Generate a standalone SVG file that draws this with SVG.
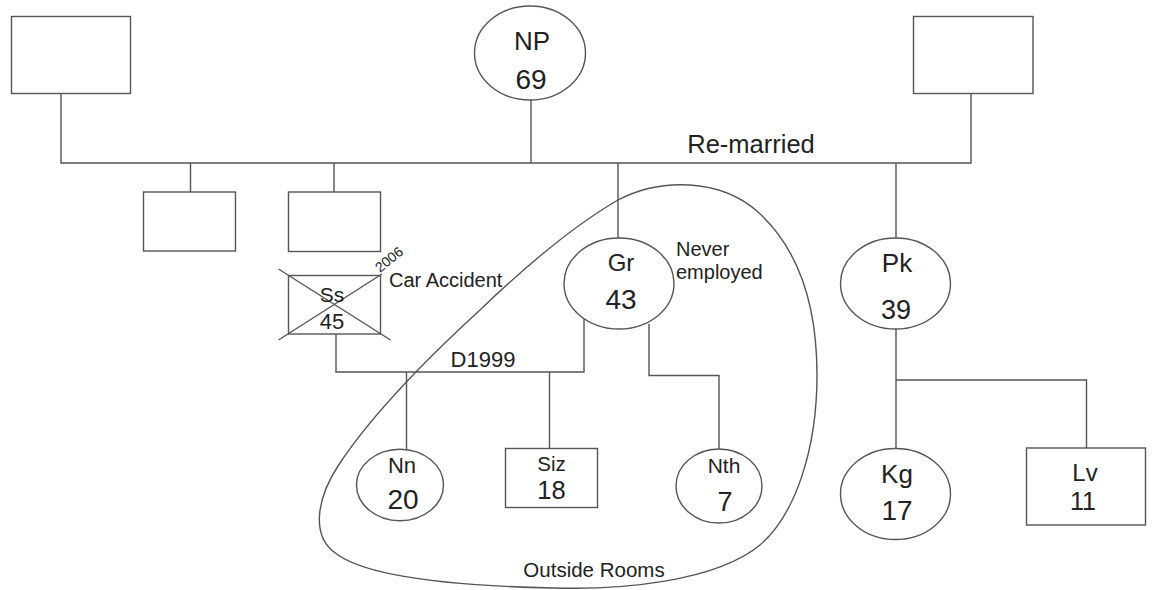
<svg xmlns="http://www.w3.org/2000/svg" width="1154" height="590" viewBox="0 0 1154 590">
<style>
.s{fill:#fff;stroke:#555;stroke-width:1.4}
.c{fill:none;stroke:#555;stroke-width:1.4}
text{font-family:"Liberation Sans",Arial,sans-serif;fill:#222}
.m{text-anchor:middle}
</style>
<rect width="1154" height="590" fill="#fff"/>
<g id="connectors" class="c">
<polyline points="61,93 61,163 971,163 971,93"/>
<line x1="531" y1="100" x2="531" y2="163"/>
<line x1="190.5" y1="163" x2="190.5" y2="192"/>
<line x1="334" y1="163" x2="334" y2="192"/>
<line x1="618" y1="163" x2="618" y2="238"/>
<line x1="896" y1="163" x2="896" y2="238"/>
<polyline points="336,334 336,372 584,372 584,319"/>
<line x1="406.5" y1="372" x2="406.5" y2="450"/>
<line x1="549.5" y1="372" x2="549.5" y2="448.5"/>
<polyline points="649,324 649,375.5 719,375.5 719,449"/>
<line x1="896" y1="329" x2="896" y2="448.5"/>
<polyline points="896,380 1086.5,380 1086.5,448"/>
</g>
<g id="outside-rooms">
<path class="c" d="M 618,200 C 660,178 720,178 758,212 C 802,252 817,312 817,375 C 817,450 795,515 760,545 C 715,582 620,590 553,588 C 460,586 365,578 334,552 C 312,535 316,500 338,466 C 368,420 420,365 480,310 C 530,262 575,225 618,200 Z"/>
<text x="594" y="577" class="m" font-size="20.5">Outside Rooms</text>
</g>
<g id="top-left"><rect class="s" x="11.5" y="16.5" width="119" height="77"/></g>
<g id="top-right"><rect class="s" x="913.5" y="16.5" width="119.5" height="77"/></g>
<g id="np">
<ellipse class="s" cx="530" cy="53" rx="55.5" ry="47"/>
<text x="532" y="50" class="m" font-size="26">NP</text>
<text x="531" y="89" class="m" font-size="28">69</text>
</g>
<text id="remarried" x="751" y="153" class="m" font-size="25.5">Re-married</text>
<g id="child1"><rect class="s" x="143.5" y="192" width="92" height="59"/></g>
<g id="child2"><rect class="s" x="288.5" y="192" width="92" height="59.5"/></g>
<g id="ss">
<rect class="s" x="288.5" y="275.5" width="92" height="58.5"/>
<line class="c" x1="278.5" y1="269" x2="390.5" y2="340"/>
<line class="c" x1="278.5" y1="340" x2="382" y2="274"/>
<text x="332" y="302" class="m" font-size="21">Ss</text>
<text x="332" y="329" class="m" font-size="22">45</text>
<text x="0" y="0" font-size="14" transform="translate(380,273) rotate(-39)">2006</text>
<text x="389" y="287" font-size="20">Car Accident</text>
</g>
<g id="gr">
<ellipse class="s" cx="619" cy="283.5" rx="55" ry="45.5"/>
<text x="621" y="271" class="m" font-size="24">Gr</text>
<text x="621" y="309" class="m" font-size="28">43</text>
<text x="676" y="256" font-size="20">Never</text>
<text x="676" y="279" font-size="20">employed</text>
</g>
<text id="d1999" x="483" y="367" class="m" font-size="22">D1999</text>
<g id="pk">
<ellipse class="s" cx="895.5" cy="283.5" rx="55" ry="45.5"/>
<text x="897" y="272" class="m" font-size="26">Pk</text>
<text x="896" y="319" class="m" font-size="27">39</text>
</g>
<g id="nn">
<ellipse class="s" cx="400" cy="485" rx="43.5" ry="35.7"/>
<text x="402" y="473" class="m" font-size="22">Nn</text>
<text x="403" y="509" class="m" font-size="28">20</text>
</g>
<g id="siz">
<rect class="s" x="505.5" y="448.5" width="92" height="59"/>
<text x="551.5" y="470.5" class="m" font-size="20.5">Siz</text>
<text x="551.5" y="499" class="m" font-size="25.5">18</text>
</g>
<g id="nth">
<ellipse class="s" cx="719" cy="486" rx="43" ry="37"/>
<text x="724" y="473" class="m" font-size="21">Nth</text>
<text x="725" y="511" class="m" font-size="27">7</text>
</g>
<g id="kg">
<ellipse class="s" cx="895.5" cy="494" rx="55" ry="45.5"/>
<text x="897" y="483" class="m" font-size="26">Kg</text>
<text x="897" y="520" class="m" font-size="28">17</text>
</g>
<g id="lv">
<rect class="s" x="1026.5" y="448" width="119" height="77"/>
<text x="1085" y="481" class="m" font-size="24">Lv</text>
<text x="1083" y="510" class="m" font-size="25">11</text>
</g>
</svg>
